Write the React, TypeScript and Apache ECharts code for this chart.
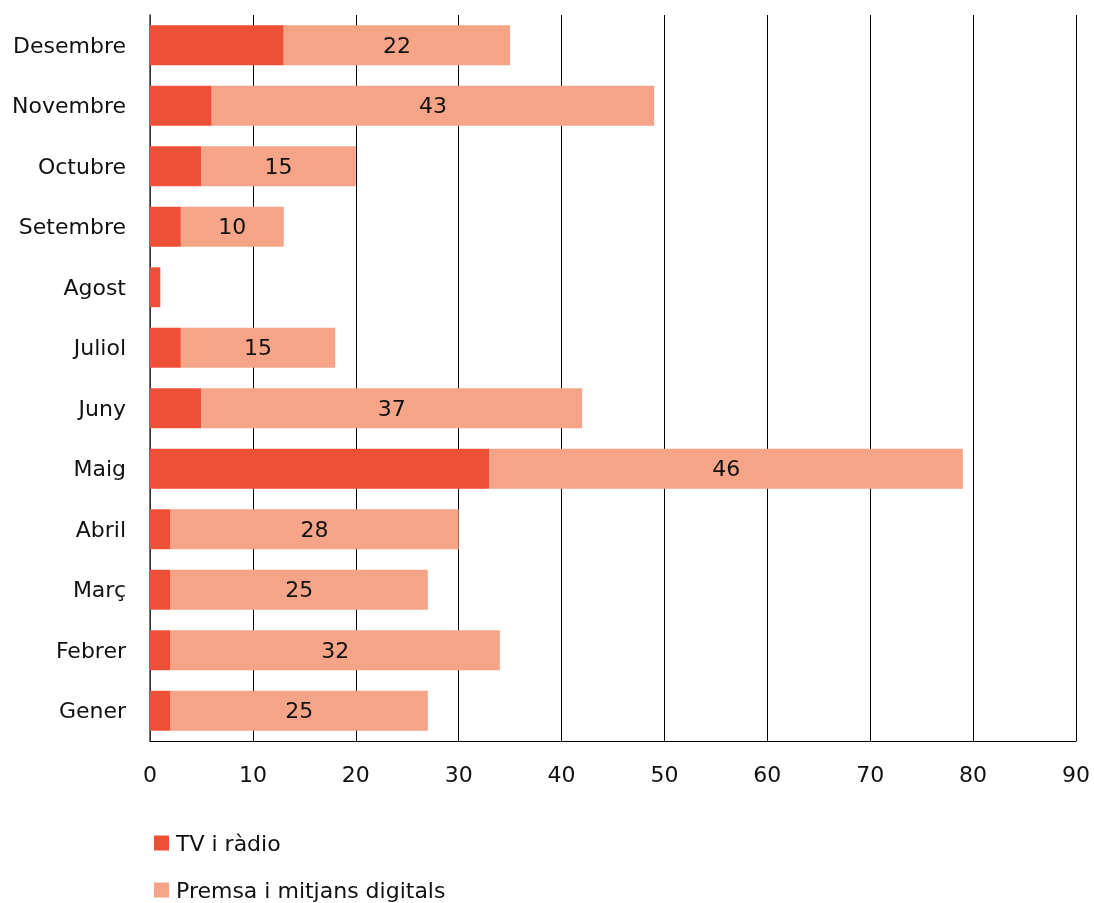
import React, { useEffect, useRef } from "react";
import * as echarts from "echarts";

const categories = ["Gener", "Febrer", "Març", "Abril", "Maig", "Juny", "Juliol", "Agost", "Setembre", "Octubre", "Novembre", "Desembre"];
const tvRadio = [2, 2, 2, 2, 33, 5, 3, 1, 3, 5, 6, 13];
const premsa = [25, 32, 25, 28, 46, 37, 15, 0, 10, 15, 43, 22];
const seriesNames = ["TV i ràdio", "Premsa i mitjans digitals"];
const xTicks = { min: 0, max: 90, interval: 10 };

const FONT = "'DejaVu Sans', sans-serif";
const FS = 22;

export default function App() {
  const ref = useRef<HTMLDivElement>(null);
  useEffect(() => {
    if (!ref.current) return;
    const chart = echarts.init(ref.current, null, { renderer: "svg" });
    const legendBase = {
      orient: "horizontal",
      left: 154,
      padding: 0,
      itemWidth: 15,
      itemHeight: 15,
      icon: "rect",
      textStyle: { fontSize: FS, color: "#111", fontFamily: FONT, padding: [0, 0, 0, 2] },
    };
    chart.setOption({
      animation: false,
      textStyle: { fontFamily: FONT },
      grid: { left: 150, right: 18, top: 15, height: 726, containLabel: false },
      legend: [
        { ...legendBase, top: 832, data: [seriesNames[0]] },
        { ...legendBase, top: 879, data: [seriesNames[1]] },
      ],
      xAxis: {
        type: "value",
        min: xTicks.min,
        max: xTicks.max,
        interval: xTicks.interval,
        axisLine: { show: true, lineStyle: { color: "#000", width: 1 } },
        axisTick: { show: false },
        axisLabel: { fontSize: FS, color: "#111", margin: 22, fontFamily: FONT },
        splitLine: { show: true, lineStyle: { color: "#000", width: 1 } },
      },
      yAxis: {
        type: "category",
        data: categories,
        axisLine: { show: true, lineStyle: { color: "#444", width: 1.5 } },
        axisTick: { show: false },
        axisLabel: { fontSize: FS, color: "#111", margin: 24, fontFamily: FONT },
      },
      series: [
        {
          name: seriesNames[0],
          type: "bar",
          stack: "total",
          data: tvRadio,
          barCategoryGap: "34%",
          itemStyle: { color: "#EE4F37" },
        },
        {
          name: seriesNames[1],
          type: "bar",
          stack: "total",
          data: premsa,
          barCategoryGap: "34%",
          itemStyle: { color: "#F5A487" },
          label: {
            show: true,
            position: "inside",
            fontSize: FS,
            color: "#111",
            fontFamily: FONT,
            formatter: (p: any) => (p.value ? String(p.value) : ""),
          },
        },
      ],
    });
    return () => chart.dispose();
  }, []);
  return <div ref={ref} style={{ position: "fixed", left: 0, top: 0, width: 1094, height: 903 }} />;
}
